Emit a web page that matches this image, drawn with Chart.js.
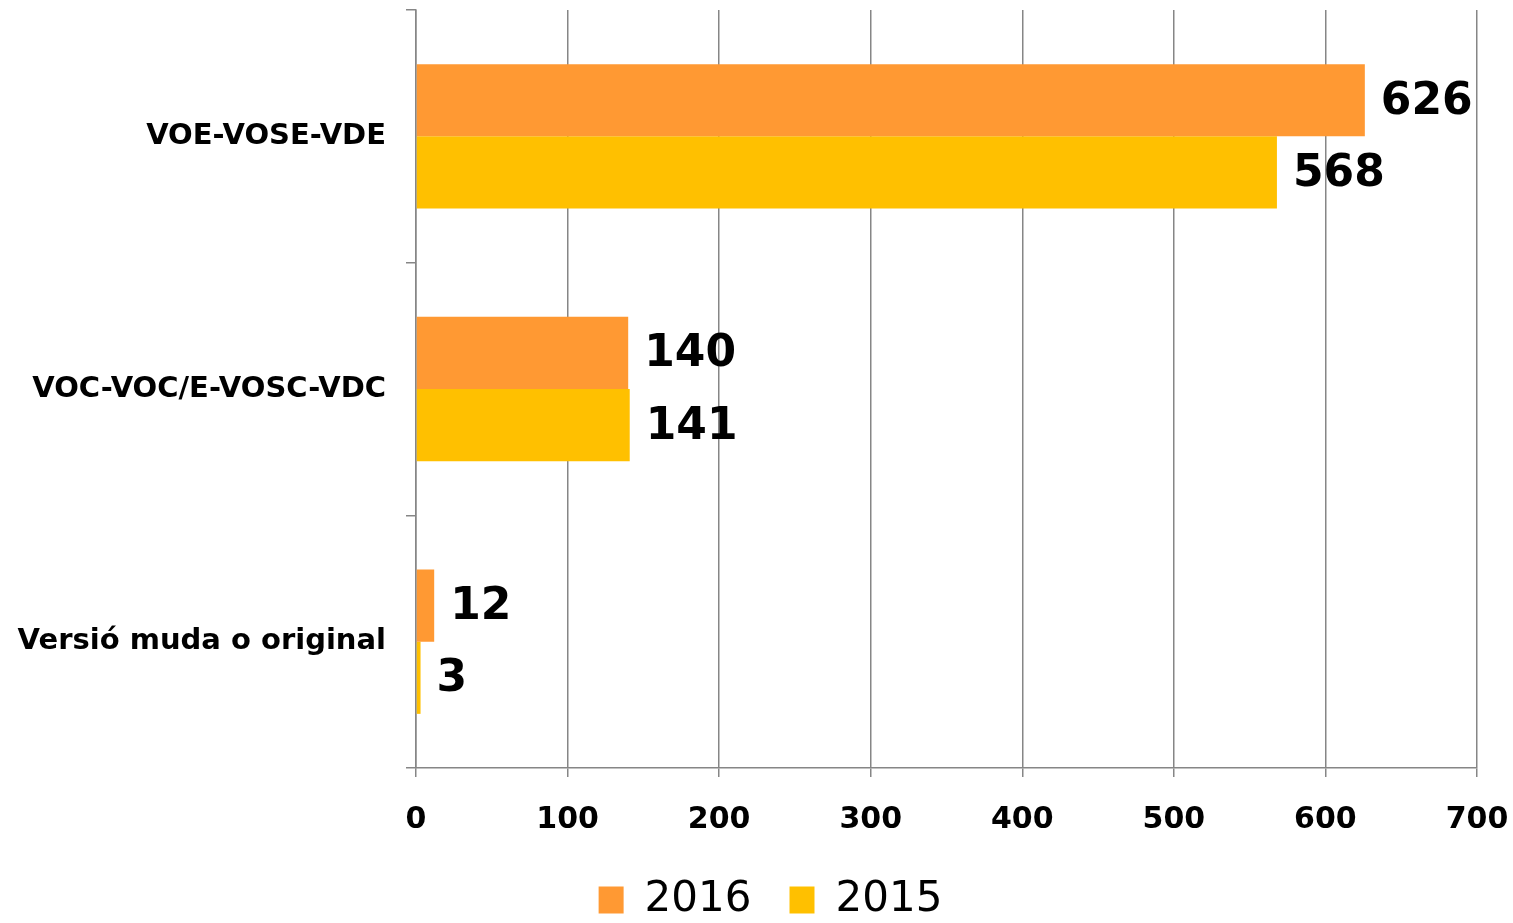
<!DOCTYPE html>
<html>
<head>
<meta charset="utf-8">
<script src="https://cdn.jsdelivr.net/npm/chart.js@4"></script>
<style>
  html, body { margin: 0; padding: 0; background: #fff; }
  #wrap { width: 1513px; height: 923px; }
</style>
</head>
<body>
<div id="wrap"><canvas id="langChart" width="1513" height="923"></canvas></div>
<script>
const categories = ['VOE-VOSE-VDE', 'VOC-VOC/E-VOSC-VDC', 'Versió muda o original'];
const values2016 = [626, 140, 12];
const values2015 = [568, 141, 3];
const xTicks = [0, 100, 200, 300, 400, 500, 600, 700];

const gridGray = '#868686';

// draws the value next to the end of each bar
const valueLabels = {
  id: 'valueLabels',
  afterLayout(chart) {
    // nudge the legend down and right, like the original
    chart.legend.top += 8;
    chart.legend.bottom += 8;
    chart.legend.left += 14;
    chart.legend.right += 14;
  },
  afterDatasetsDraw(chart) {
    const ctx = chart.ctx;
    ctx.save();
    ctx.font = 'bold 44px "DejaVu Sans"';
    ctx.fillStyle = '#000';
    ctx.textAlign = 'left';
    ctx.textBaseline = 'middle';
    chart.data.datasets.forEach((ds, i) => {
      chart.getDatasetMeta(i).data.forEach((bar, j) => {
        ctx.fillText(ds.data[j], bar.x + 16, bar.y + 2);
      });
    });
    ctx.restore();
  }
};

const ctx = document.getElementById('langChart').getContext('2d');
const langChart = new Chart(ctx, {
  type: 'bar',
  data: {
    labels: categories,
    datasets: [{
      label: '2016',
      data: values2016,
      backgroundColor: '#FF9933',
      categoryPercentage: 0.5714,
      barPercentage: 1,
    }, {
      label: '2015',
      data: values2015,
      backgroundColor: '#FFC000',
      categoryPercentage: 0.5714,
      barPercentage: 1,
    }]
  },
  options: {
    indexAxis: 'y',
    responsive: false,
    animation: false,
    layout: {
      padding: { top: 10, right: 0, left: 0, bottom: 0 },
    },
    scales: {
      x: {
        min: xTicks[0],
        max: xTicks[xTicks.length - 1],
        afterBuildTicks(scale) {
          scale.ticks = xTicks.map(v => ({ value: v }));
        },
        afterFit(scale) {
          scale.height = 65;
          scale.paddingLeft = 0;
          scale.paddingRight = 36;
        },
        ticks: {
          color: '#000',
          padding: 25,
          font: { family: '"DejaVu Sans"', weight: 'bold', size: 30 },
        },
        grid: {
          color: gridGray,
          lineWidth: 1.5,
          tickLength: 9,
        },
        border: { color: gridGray, width: 1.5 },
      },
      y: {
        afterFit(scale) {
          scale.width = 416;
          scale.paddingTop = 0;
          scale.paddingBottom = 0;
        },
        ticks: {
          color: '#000',
          padding: 20,
          font: { family: '"DejaVu Sans"', weight: 'bold', size: 29 },
        },
        grid: {
          offset: true,
          drawOnChartArea: false,
          color: gridGray,
          lineWidth: 1.5,
          tickLength: 10,
        },
        border: { color: gridGray, width: 1.5 },
      },
    },
    plugins: {
      legend: {
        position: 'bottom',
        labels: {
          color: '#000',
          boxWidth: 25,
          boxHeight: 27,
          padding: 38,
          font: { family: '"DejaVu Sans"', size: 42 },
        },
      },
      tooltip: { enabled: false },
    },
  },
  plugins: [valueLabels],
});
</script>
</body>
</html>
